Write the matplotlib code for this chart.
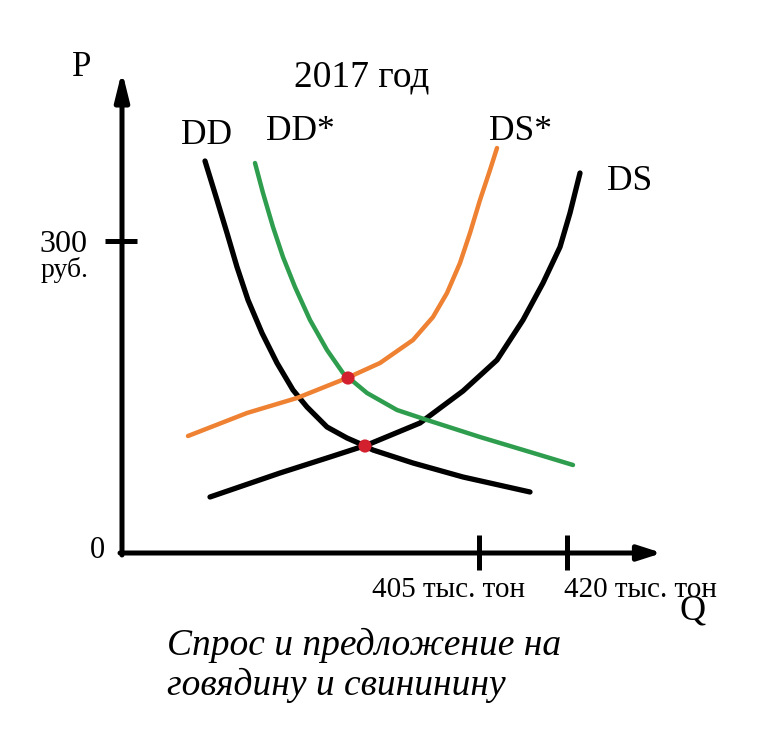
import matplotlib
matplotlib.use("Agg")
import matplotlib.pyplot as plt

# Schematic units: Q to the right of the origin, P upward from the origin
dd_q = [83, 95, 105, 115, 126, 140, 155, 171, 185, 205, 225, 241, 251, 291, 341, 408]
dd_p = [392, 353, 320, 286, 253, 220, 190, 163, 146, 126, 115, 108, 103, 90, 76, 61]

dds_q = [133, 141, 151, 161, 173, 188, 205, 221, 245, 275, 305, 358, 408, 451]
dds_p = [390, 360, 326, 296, 266, 233, 203, 180, 160, 143, 133, 116, 101, 88]

dss_q = [66, 125, 175, 225, 258, 291, 311, 325, 338, 348, 358, 368, 375]
dss_p = [117, 140, 155, 175, 190, 213, 236, 260, 290, 320, 353, 383, 405]

ds_q = [88, 158, 208, 245, 298, 341, 375, 401, 421, 438, 448, 458]
ds_p = [56, 80, 96, 108, 130, 162, 193, 233, 270, 306, 340, 380]

eq_q = [226, 243]
eq_p = [175, 107]

p_tick_pos = [312]
p_tick_value = "300"
p_unit = "руб."
q_tick_pos = [357, 445]
q_tick_label = ["405 тыс. тон", "420 тыс. тон"]

title = "2017 год"
caption_lines = ["Спрос и предложение на", "говядину и свининину"]

fig = plt.figure(figsize=(7.74, 7.56), dpi=100)
fig.patch.set_facecolor("white")
ax = fig.add_axes([0, 0, 1, 1])
ax.set_xlim(-122, 652)
ax.set_ylim(-203, 553)
ax.axis("off")

serif = ["Liberation Serif", "DejaVu Serif"]

# axes with arrows
ax.annotate("", xy=(0, 482), xytext=(0, -2),
            arrowprops=dict(arrowstyle="-|>,head_length=1.7,head_width=0.42",
                            lw=3.6, color="black", shrinkA=0, shrinkB=0))
ax.annotate("", xy=(540, 0), xytext=(-2, 0),
            arrowprops=dict(arrowstyle="-|>,head_length=1.4,head_width=0.45",
                            lw=3.6, color="black", shrinkA=0, shrinkB=0))

# ticks
for p in p_tick_pos:
    ax.plot([-17, 15], [p, p], color="black", lw=3.6, solid_capstyle="butt")
for q in q_tick_pos:
    ax.plot([q, q], [-17, 18], color="black", lw=3.6, solid_capstyle="butt")

# curves
kw = dict(solid_capstyle="round", solid_joinstyle="round")
ax.plot(dd_q, dd_p, color="black", lw=3.8, **kw)
ax.plot(ds_q, ds_p, color="black", lw=3.8, **kw)
ax.plot(dds_q, dds_p, color="#2e9e4e", lw=3.2, **kw)
ax.plot(dss_q, dss_p, color="#ee8132", lw=3.2, **kw)
ax.scatter(eq_q, eq_p, s=90, color="#d2202e", zorder=5, edgecolors="none")

# labels
ax.text(-40, 485, "P", fontsize=25, family=serif, ha="center", va="center")
ax.text(-59, 309, p_tick_value, fontsize=23, family=serif, ha="center", va="center")
ax.text(-57, 283, p_unit, fontsize=20, family=serif, ha="center", va="center")
ax.text(-25, 3, "0", fontsize=22, family=serif, ha="center", va="center")
for q, lab, dx in zip(q_tick_pos, q_tick_label, [-31, 73]):
    ax.text(q + dx, -37, lab, fontsize=21, family=serif, ha="center", va="center")
ax.text(571, -58, "Q", fontsize=26, family=serif, ha="center", va="center")
ax.text(240, 476, title, fontsize=27, family=serif, ha="center", va="center")
ax.text(85, 418, "DD", fontsize=25.5, family=serif, ha="center", va="center")
ax.text(178, 422, "DD*", fontsize=25.5, family=serif, ha="center", va="center")
ax.text(398, 422, "DS*", fontsize=25.5, family=serif, ha="center", va="center")
ax.text(508, 372, "DS", fontsize=25.5, family=serif, ha="center", va="center")
for i, line in enumerate(caption_lines):
    ax.text(45, -92 - 40 * i, line, fontsize=27, family=serif, style="italic",
            ha="left", va="center")

fig.savefig("out.png", dpi=100, facecolor="white")
